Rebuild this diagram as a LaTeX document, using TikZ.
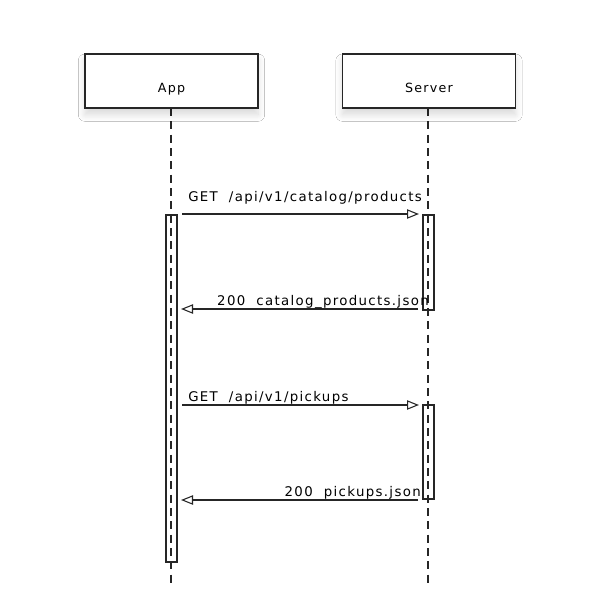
\documentclass[tikz,border=0pt]{standalone}
\usepackage{fontspec}
\setmainfont{DejaVu Sans}
\newfontfamily\handfont[LetterSpace=10]{DejaVu Sans}
\usetikzlibrary{arrows.meta,shadows.blur}
\begin{document}
\begin{tikzpicture}[x=0.75pt,y=-0.75pt,
  actor/.style={draw=black!85,line width=0.8pt,fill=white,minimum width=173*0.75pt,minimum height=54*0.75pt,
    inner sep=0pt,
    blur shadow={shadow xshift=0pt,shadow yshift=-5pt,shadow blur radius=5pt,shadow blur steps=8,shadow opacity=15}},
  life/.style={draw=black!85,line width=0.8pt,dash pattern=on 6pt off 4pt},
  act/.style={draw=black!85,line width=0.8pt},
  msg/.style={draw=black!85,line width=0.8pt,-{Triangle[open,length=9pt,width=7pt]}},
  lbl/.style={font=\handfont\fontsize{10}{12}\selectfont,inner sep=0pt,text depth=0pt},
  albl/.style={font=\handfont\fontsize{9.5}{12}\selectfont,inner sep=0pt,text depth=0pt}]
\useasboundingbox[fill=white] (0,0) rectangle (600,600);
% lifelines
\coordinate (appTop) at (171,108);
\coordinate (appBot) at (171,586);
\coordinate (srvTop) at (428,108);
\coordinate (srvBot) at (428,586);
\draw[life] (appTop) -- (appBot);
\draw[life] (srvTop) -- (srvBot);
% actors
\node[actor] (app) at (171.5,81) {};
\node[actor] (srv) at (429,81) {};
\node[albl,anchor=base] (appT) at (171.5,92) {App};
\node[albl,anchor=base] (srvT) at (429,92) {Server};
% activations
\draw[act] (166,215) rectangle (177,562);
\draw[act] (423,215) rectangle (434,310);
\draw[act] (423,405) rectangle (434,499);
% messages
\coordinate (m1s) at (182,214); \coordinate (m1e) at (419,214);
\coordinate (m2s) at (418,309); \coordinate (m2e) at (181,309);
\coordinate (m3s) at (182,405); \coordinate (m3e) at (419,405);
\coordinate (m4s) at (418,500); \coordinate (m4e) at (181,500);
\draw[msg] (m1s) -- (m1e);
\draw[msg] (m2s) -- (m2e);
\draw[msg] (m3s) -- (m3e);
\draw[msg] (m4s) -- (m4e);
\node[lbl,anchor=base west] (l1) at (188,201) {GET\ \ /api/v1/catalog/products};
\node[lbl,anchor=base east] (l2) at (429,305) {200\ \ catalog\_products.json};
\node[lbl,anchor=base west] (l3) at (188,401) {GET\ \ /api/v1/pickups};
\node[lbl,anchor=base east] (l4) at (421,496) {200\ \ pickups.json};
\end{tikzpicture}
\end{document}
